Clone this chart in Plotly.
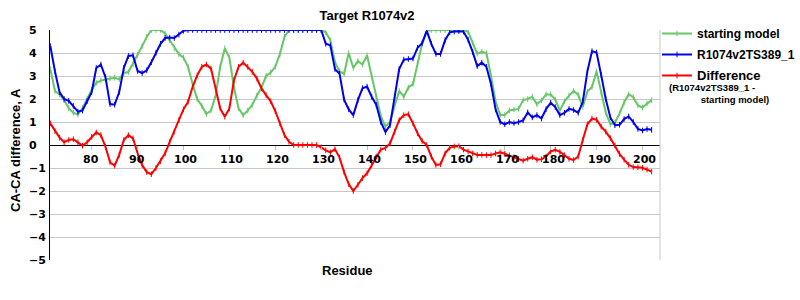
import plotly.graph_objects as go

residues = list(range(71, 203))

starting_model = [
    3.3, 2.35, 2.2, 1.95, 1.6, 1.4, 1.32, 1.6, 2.0, 2.4,
    2.7, 2.8, 2.85, 2.9, 2.92, 2.86, 3.13, 3.17, 3.52, 3.92,
    4.3, 4.7, 5.0, 5.0, 5.0, 4.85, 4.55, 4.2, 3.95, 3.8,
    3.4, 2.65, 2.0, 1.7, 1.35, 1.5, 2.15, 3.4, 4.2, 3.8,
    2.5, 1.6, 1.3, 1.5, 1.75, 2.15, 2.5, 3.0, 3.15, 3.4,
    3.95, 4.7, 5.0, 5.0, 5.0, 5.0, 5.0, 5.0, 5.0, 5.0,
    4.9, 4.55, 3.6, 3.2, 3.1, 4.0, 3.35, 3.65, 3.5, 3.9,
    3.0, 2.1, 1.25, 0.8, 1.0, 1.7, 2.35, 2.1, 2.5, 2.65,
    3.55, 4.4, 4.95, 5.0, 5.0, 5.0, 5.0, 5.0, 5.0, 5.0,
    5.0, 4.93, 4.45, 3.97, 4.05, 4.0, 3.0, 1.9, 1.3, 1.3,
    1.5, 1.55, 1.57, 1.95, 2.0, 2.1, 1.77, 1.94, 2.2, 2.2,
    1.98, 1.5, 1.9, 2.15, 2.35, 2.18, 1.66, 2.32, 2.52, 3.2,
    2.28, 1.42, 0.9, 0.97, 1.37, 1.85, 2.21, 2.08, 1.72, 1.63,
    1.8, 1.95,
]

model_ts389 = [
    4.3, 3.2, 2.3, 2.0, 1.92, 1.7, 1.45, 1.5, 1.9, 2.3,
    3.35, 3.5, 2.95, 1.78, 1.75, 2.3, 3.35, 3.87, 3.9, 3.22,
    3.13, 3.25, 3.6, 4.0, 4.4, 4.65, 4.67, 4.65, 4.8, 4.97,
    5.0, 5.0, 5.0, 5.0, 5.0, 5.0, 5.0, 5.0, 5.0, 5.0,
    5.0, 5.0, 5.0, 5.0, 5.0, 5.0, 5.0, 5.0, 5.0, 5.0,
    5.0, 5.0, 5.0, 5.0, 5.0, 5.0, 5.0, 5.0, 5.0, 5.0,
    4.4, 4.33, 3.3, 3.1, 1.97, 1.55, 1.3, 1.95, 2.47, 2.54,
    2.1, 1.75, 1.0, 0.56, 0.86, 2.07, 3.3, 3.71, 3.74, 3.76,
    4.23, 4.43, 4.96, 4.4, 3.96, 3.96, 4.56, 4.9, 4.93, 4.95,
    4.93, 4.58, 4.05, 3.43, 3.58, 3.4, 2.65, 1.55, 1.0, 0.9,
    1.0, 0.95, 1.0, 1.07, 1.42, 1.2, 1.3, 1.15, 1.56, 1.84,
    1.65, 1.3, 1.4, 1.57, 1.52, 1.4, 1.88, 3.2, 4.08, 4.02,
    3.05, 2.0, 1.2, 0.86, 0.88, 1.13, 1.24, 1.0, 0.7, 0.63,
    0.69, 0.66,
]

difference = [
    0.94, 0.6, 0.32, 0.12, 0.22, 0.25, 0.12, -0.03, 0.12, 0.36,
    0.55, 0.43, -0.07, -0.75, -0.9, -0.43, 0.22, 0.43, 0.29, -0.36,
    -0.87, -1.18, -1.27, -1.0, -0.7, -0.36, 0.14, 0.58, 1.08, 1.55,
    1.88, 2.53, 3.03, 3.4, 3.5, 3.32, 2.46, 1.59, 1.23, 1.59,
    2.82, 3.4, 3.58, 3.4, 3.18, 2.89, 2.46, 2.17, 1.9, 1.47,
    0.94, 0.43, 0.14, 0.0, 0.0, 0.0, 0.0, 0.0, 0.0, -0.1,
    -0.23, -0.32, -0.18, -0.55, -1.18, -1.7, -2.0, -1.73, -1.44, -1.23,
    -0.87, -0.5, -0.2, -0.13, 0.07, 0.58, 1.08, 1.3, 1.34, 0.94,
    0.51, 0.17, 0.0, -0.51, -0.87, -0.84, -0.36, -0.12, -0.06, -0.05,
    -0.2, -0.28, -0.37, -0.43, -0.43, -0.44, -0.44, -0.37, -0.32, -0.38,
    -0.45, -0.53, -0.61, -0.68, -0.6, -0.53, -0.64, -0.62, -0.5, -0.28,
    -0.21, -0.3, -0.44, -0.6, -0.65, -0.5, 0.22, 0.9, 1.15, 1.1,
    0.8, 0.58, 0.3, -0.02, -0.39, -0.64, -0.86, -0.96, -0.97, -0.99,
    -1.07, -1.16,
]

x_tick_vals = [80, 90, 100, 110, 120, 130, 140, 150, 160, 170, 180, 190, 200]
x_tick_text = ["80", "90", "100", "110", "120", "130", "140",
               "150", "160", "170", "180", "190", "200"]
y_tick_vals = [5, 4, 3, 2, 1, 0, -1, -2, -3, -4, -5]
y_tick_text = ["5", "4", "3", "2", "1", "0",
               "\u22121", "\u22122", "\u22123", "\u22124", "\u22125"]

GREEN = "#66c766"
BLUE = "#0000f0"
RED = "#ff0000"
ARIAL = "Liberation Sans"
TICKFONT = dict(family="DejaVu Sans", size=11, color="black", weight="bold")

fig = go.Figure()


def add_series(y, name, color, group):
    fig.add_trace(go.Scatter(
        x=residues, y=y, name=name, mode="lines+markers",
        line=dict(color=color, width=2),
        marker=dict(symbol="line-ns-open", size=4, color=color,
                    line=dict(color=color, width=1)),
        legendgroup=group,
    ))


add_series(starting_model, "starting model", GREEN, "g1")
add_series(model_ts389, "R1074v2TS389_1", BLUE, "g2")
add_series(difference, "<span style='font-size:13px'>Difference</span>", RED, "g3")

annotations = [
    dict(text="CA-CA difference, A", xref="paper", yref="paper",
         x=(15 - 50) / 610, y=(260 - 150) / 230, textangle=-90,
         showarrow=False, xanchor="center", yanchor="middle",
         font=dict(family=ARIAL, size=13, color="black", weight="bold")),
    dict(text="Residue", xref="paper", yref="paper",
         x=(347.5 - 50) / 610, y=(260 - 270) / 230,
         showarrow=False, xanchor="center", yanchor="middle",
         font=dict(family=ARIAL, size=13, color="black", weight="bold")),
    dict(text="(R1074v2TS389_1 -<br>" + "&nbsp;" * 12 + "starting model)",
         xref="paper", yref="paper", align="left",
         x=(667 - 50) / 610, y=(260 - 94) / 230,
         showarrow=False, xanchor="left", yanchor="middle",
         font=dict(family=ARIAL, size=9.5, color="black", weight="bold")),
]

# y tick labels: left-aligned, as in the reference
for v, t in zip(y_tick_vals, y_tick_text):
    annotations.append(dict(text=t, xref="paper", yref="y", x=(27 - 50) / 610, y=v,
                            xanchor="left", yanchor="middle", showarrow=False,
                            font=TICKFONT))
# x tick labels: left-aligned a little before each tick, under the zero line
for v, t in zip(x_tick_vals, x_tick_text):
    annotations.append(dict(text=t, xref="x", yref="y", x=v, y=0, xshift=-11, yshift=-14,
                            xanchor="left", yanchor="middle", showarrow=False,
                            font=TICKFONT))

fig.update_layout(
    width=800, height=300,
    margin=dict(l=50, r=140, t=30, b=40, autoexpand=False),
    paper_bgcolor="white", plot_bgcolor="white",
    title=dict(text="Target R1074v2", x=367 / 800, xanchor="center",
               y=1 - 15 / 300, yanchor="middle",
               font=dict(family=ARIAL, size=13, color="black", weight="bold")),
    xaxis=dict(range=[70.92, 203.82], anchor="free", position=0.5,
               tickvals=x_tick_vals, showticklabels=False,
               ticks="outside", ticklen=4, tickcolor="#c0c0c0", tickwidth=1,
               showgrid=False, zeroline=False, showline=False),
    yaxis=dict(range=[-5, 5], tickvals=y_tick_vals, showticklabels=False,
               showgrid=True, gridcolor="#c8c8c8", gridwidth=1,
               zeroline=True, zerolinecolor="black", zerolinewidth=1,
               showline=True, linecolor="black", linewidth=1, ticks=""),
    showlegend=True,
    legend=dict(x=(657 - 50) / 610, y=(260 - 19) / 230, xanchor="left", yanchor="top",
                font=dict(family=ARIAL, size=12, color="black", weight="bold"),
                bgcolor="rgba(0,0,0,0)", tracegroupgap=2, itemwidth=30),
    shapes=[dict(type="line", xref="paper", yref="paper", x0=1, x1=1, y0=0, y1=1,
                 line=dict(color="#c8c8c8", width=1))],
    annotations=annotations,
)

fig.write_html("out.html")
